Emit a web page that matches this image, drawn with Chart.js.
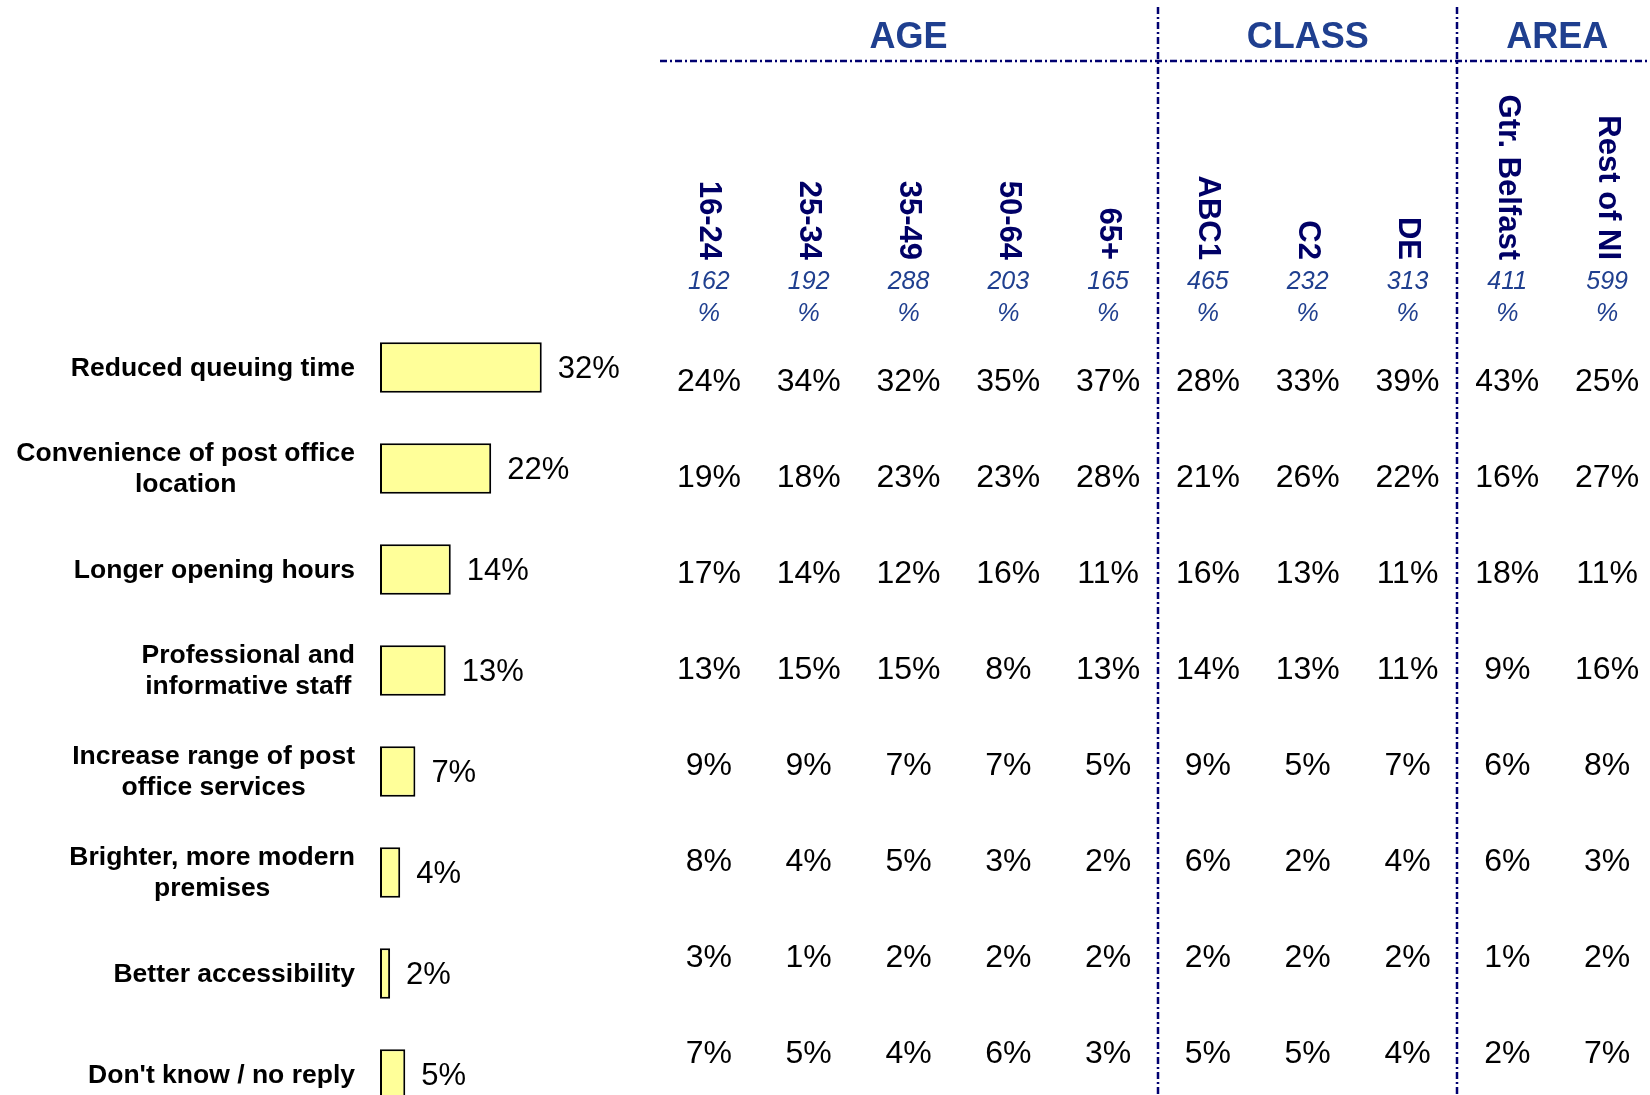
<!DOCTYPE html>
<html>
<head>
<meta charset="utf-8">
<script src="https://cdn.jsdelivr.net/npm/chart.js@4.4.1/dist/chart.umd.min.js"></script>
<style>
  html, body { margin: 0; padding: 0; background: #fff; }
  #page { position: relative; width: 1650px; height: 1095px; overflow: hidden; }
  #bars { position: absolute; left: 0; top: 0; }
  #table { position: absolute; left: 659px; top: 0; }
</style>
</head>
<body>
<div id="page">
  <canvas id="bars" width="660" height="1125"></canvas>
  <canvas id="table" width="1000" height="1100"></canvas>
</div>
<script>
const FONT = "'Liberation Sans', Arial, sans-serif";

// improvements asked for (one row each), label lines
const categories = [
  ["Reduced queuing time"],
  ["Convenience of post office", "location"],
  ["Longer opening hours"],
  ["Professional and", "informative staff"],
  ["Increase range of post", "office services"],
  ["Brighter, more modern", "premises"],
  ["Better accessibility"],
  ["Don't know / no reply"]
];
const totals = [32, 22, 14, 13, 7, 4, 2, 5];

// breakdown columns
const groups = ["AGE", "CLASS", "AREA"];
const groupSizes = [5, 3, 2];
const columns = ["16-24", "25-34", "35-49", "50-64", "65+", "ABC1", "C2", "DE", "Gtr. Belfast", "Rest of NI"];
const bases = [162, 192, 288, 203, 165, 465, 232, 313, 411, 599];

const age1624 = [24, 19, 17, 13, 9, 8, 3, 7];
const age2534 = [34, 18, 14, 15, 9, 4, 1, 5];
const age3549 = [32, 23, 12, 15, 7, 5, 2, 4];
const age5064 = [35, 23, 16, 8, 7, 3, 2, 6];
const age65 = [37, 28, 11, 13, 5, 2, 2, 3];
const classABC1 = [28, 21, 16, 14, 9, 6, 2, 5];
const classC2 = [33, 26, 13, 13, 5, 2, 2, 5];
const classDE = [39, 22, 11, 11, 7, 4, 2, 4];
const areaBelfast = [43, 16, 18, 9, 6, 6, 1, 2];
const areaRestNI = [25, 27, 11, 16, 8, 3, 2, 7];

const columnValues = [age1624, age2534, age3549, age5064, age65,
  classABC1, classC2, classDE, areaBelfast, areaRestNI];
const rowKeys = categories.map(c => c.join(" "));

// labels + values next to the bars
const barLabels = {
  id: "barLabels",
  afterDatasetsDraw(chart) {
    const ctx = chart.ctx;
    const yScale = chart.scales.y;
    const meta = chart.getDatasetMeta(0);
    ctx.save();
    ctx.fillStyle = "#000";
    ctx.textBaseline = "middle";
    ctx.font = "31px " + FONT;
    ctx.textAlign = "left";
    meta.data.forEach((bar, i) => {
      ctx.fillText(totals[i] + "%", bar.x + 16, bar.y + 2);
    });
    ctx.font = "bold 26.5px " + FONT;
    ctx.textAlign = "center";
    const right = chart.chartArea.left - 25;
    categories.forEach((lines, i) => {
      const y = yScale.getPixelForValue(i) + 1;
      const w = Math.max(...lines.map(l => ctx.measureText(l).width));
      lines.forEach((l, k) => {
        ctx.fillText(l, right - w / 2, y + (k - (lines.length - 1) / 2) * 31);
      });
    });
    ctx.restore();
  }
};

new Chart(document.getElementById("bars"), {
  type: "bar",
  data: {
    labels: rowKeys,
    datasets: [{
      data: totals,
      backgroundColor: "#FFFF99",
      borderColor: "#000",
      borderWidth: 2,
      borderSkipped: false,
      barPercentage: 0.5,
      categoryPercentage: 1
    }]
  },
  options: {
    indexAxis: "y",
    responsive: false,
    animation: false,
    layout: { padding: { left: 380, right: 2, top: 317, bottom: 0 } },
    plugins: { legend: { display: false }, tooltip: { enabled: false } },
    scales: {
      x: { display: false, min: 0, max: 55 },
      y: { display: false }
    }
  },
  plugins: [barLabels]
});

// table cells, headings and dividers
const tableText = {
  id: "tableText",
  afterDraw(chart) {
    const ctx = chart.ctx;
    const xs = chart.scales.x;
    ctx.save();
    ctx.textAlign = "center";
    ctx.textBaseline = "middle";

    ctx.fillStyle = "#000";
    ctx.font = "32px " + FONT;
    chart.data.datasets.forEach((ds, c) => {
      chart.getDatasetMeta(c).data.forEach((pt, r) => {
        ctx.fillText(columnValues[c][r] + "%", pt.x, pt.y + 2);
      });
    });

    columns.forEach((col, c) => {
      const x = xs.getPixelForValue(c);
      ctx.save();
      ctx.translate(x, 260);
      ctx.rotate(Math.PI / 2);
      ctx.textAlign = "right";
      ctx.fillStyle = "#000066";
      ctx.font = "bold 31px " + FONT;
      ctx.fillText(col, 0, 0);
      ctx.restore();
      ctx.fillStyle = "#1F3F8F";
      ctx.font = "italic 25px " + FONT;
      ctx.fillText(String(bases[c]), x, 282);
      ctx.fillText("%", x, 314);
    });

    ctx.strokeStyle = "#000070";
    ctx.lineWidth = 2.5;
    ctx.setLineDash([7, 3, 2, 3]);
    let start = 0;
    groups.forEach((g, k) => {
      const end = start + groupSizes[k] - 1;
      const x0 = xs.getPixelForValue(start);
      const x1 = xs.getPixelForValue(end);
      ctx.fillStyle = "#1F3F8F";
      ctx.font = "bold 36px " + FONT;
      ctx.fillText(g, (x0 + x1) / 2, 38);
      if (k < groups.length - 1) {
        const xd = Math.round((x1 + xs.getPixelForValue(end + 1)) / 2);
        ctx.beginPath();
        ctx.moveTo(xd, 7);
        ctx.lineTo(xd, chart.height);
        ctx.stroke();
      }
      start += groupSizes[k];
    });
    ctx.beginPath();
    ctx.moveTo(1, 61);
    ctx.lineTo(chart.width, 61);
    ctx.stroke();
    ctx.restore();
  }
};

new Chart(document.getElementById("table"), {
  type: "scatter",
  data: {
    datasets: columns.map((col, c) => ({
      data: columnValues[c].map((v, r) => ({ x: col, y: rowKeys[r] })),
      pointRadius: 0
    }))
  },
  options: {
    responsive: false,
    animation: false,
    layout: { padding: { left: 0, right: 2, top: 332, bottom: 0 } },
    plugins: { legend: { display: false }, tooltip: { enabled: false } },
    scales: {
      x: { type: "category", labels: columns, offset: true, display: false },
      y: { type: "category", labels: rowKeys, offset: true, display: false }
    }
  },
  plugins: [tableText]
});
</script>
</body>
</html>
